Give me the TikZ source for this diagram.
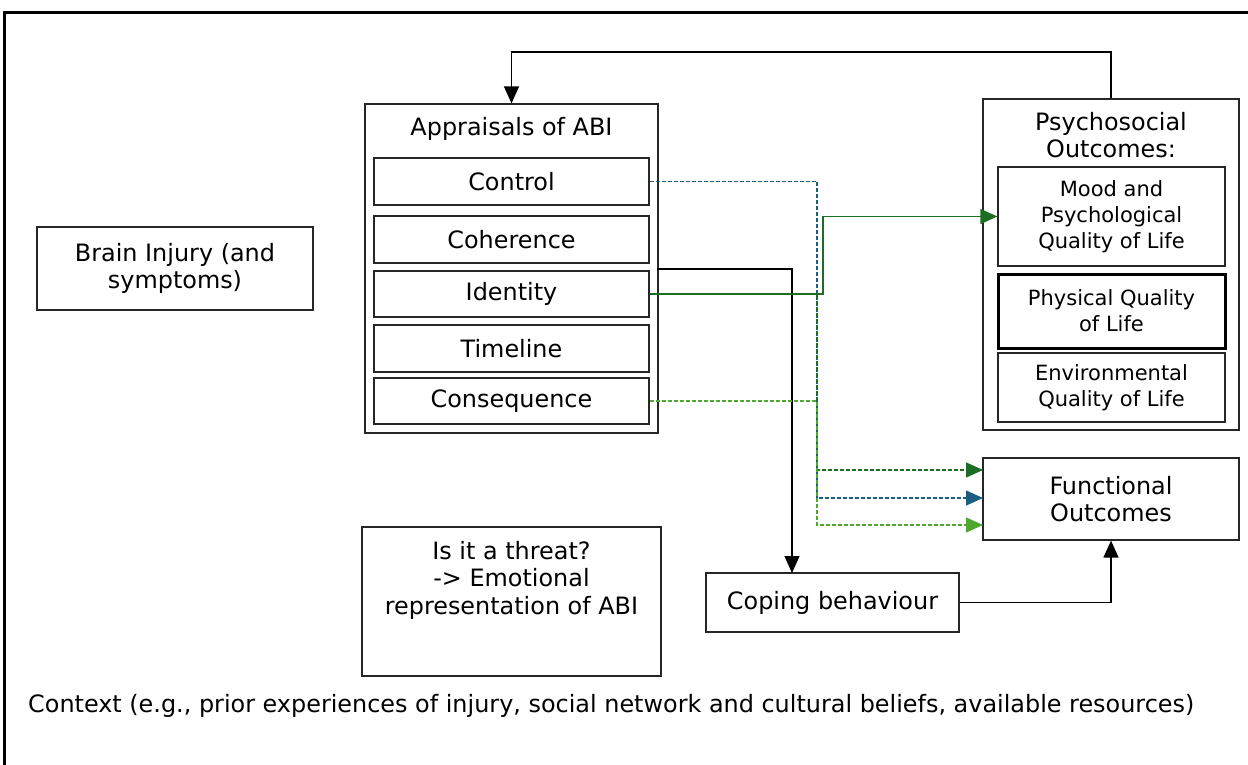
\documentclass[tikz,border=0pt]{standalone}
\usepackage{fontspec}
\setmainfont{DejaVu Sans}
\usetikzlibrary{arrows.meta,calc}
\definecolor{dkgreen}{HTML}{1B6E24}
\definecolor{ltgreen}{HTML}{4EA72E}
\definecolor{tblue}{HTML}{1A5E80}
\begin{document}
\begin{tikzpicture}[x=1pt,y=-1pt,
  box/.style={draw=black!85,line width=1.2pt,inner sep=0pt,align=center,font=\fontsize{23.9}{27.5}\selectfont},
  sbox/.style={draw=black!85,line width=1.2pt,inner sep=0pt,align=center,font=\fontsize{21}{26}\selectfont},
  txt/.style={inner sep=0pt,align=center,font=\fontsize{23.9}{27.5}\selectfont},
  arr/.style={line width=1.3pt,-{Triangle[length=17pt,width=15pt]}},
  dsh/.style={line width=1.2pt,dash pattern=on 4pt off 2pt,-{Triangle[length=17pt,width=15pt]}},
  ]
\useasboundingbox (0,0) rectangle (1248,765);
\fill[white] (0,0) rectangle (1248,765);
% outer frame
\draw[line width=3pt] (1270,13) -- (4,13) -- (4,790);

% appraisals
\node[box,minimum width=293pt,minimum height=329pt] (appr) at (511.5,268.5) {};
\node[txt] (apprt) at (511.5,129) {Appraisals of ABI};
\node[box,minimum width=275pt,minimum height=47pt] (control) at (511.5,181.5) {Control};
\node[box,minimum width=275pt,minimum height=47pt] (coher) at (511.5,239.5) {Coherence};
\node[box,minimum width=275pt,minimum height=46pt] (ident) at (511.5,294) {Identity};
\node[box,minimum width=275pt,minimum height=47pt] (timel) at (511.5,348.5) {Timeline};
\node[box,minimum width=275pt,minimum height=46pt] (conseq) at (511.5,401) {Consequence};

% brain injury
\node[box,minimum width=276pt,minimum height=83pt] (brain) at (175,268.5) {Brain Injury (and\\symptoms)};

% threat
\node[box,minimum width=299pt,minimum height=149pt] (threat) at (511.5,601.5) {};
\node[txt,anchor=north] (threatt) at (511.5,541) {Is it a threat?\\-> Emotional\\representation of ABI};

% psychosocial
\node[box,minimum width=256pt,minimum height=331pt] (psy) at (1111,264.5) {};
\node[txt,anchor=north] (psyt) at (1111,112) {Psychosocial\\Outcomes:};
\node[sbox,minimum width=227pt,minimum height=99pt] (mood) at (1111.5,216.5) {Mood and\\Psychological\\Quality of Life};
\node[sbox,line width=3pt,draw=black,minimum width=227pt,minimum height=74pt] (phys) at (1111.5,311) {Physical Quality\\of Life};
\node[sbox,minimum width=227pt,minimum height=69pt] (env) at (1111.5,387.5) {Environmental\\Quality of Life};

% functional
\node[box,minimum width=256pt,minimum height=82pt] (func) at (1111,499) {Functional\\Outcomes};

% coping
\node[box,minimum width=253pt,minimum height=59pt] (coping) at (832.5,602.5) {Coping behaviour};

% context
\node[txt,anchor=west] (ctx) at (28,706) {Context (e.g., prior experiences of injury, social network and cultural beliefs, available resources)};

% connectors
\coordinate (topr) at (1111,52);
\coordinate (topl) at (511.5,52);
\draw[arr] (psy.north) -- (topr) -- (topl) -- (appr.north);

\coordinate (b1) at (657,269);
\coordinate (b2) at (792,269);
\coordinate (b3) at (792,573);
\draw[arr] (b1) -- (b2) -- (b3);

\coordinate (c1) at (1111,602.5);
\draw[arr] (coping.east) -- (c1) -- (func.south);

\coordinate (k1) at (817,181.5);
\coordinate (k2) at (817,498);
\coordinate (k3) at (983,498);
\draw[dsh,tblue] (control.east) -- (k1) -- (k2) -- (k3);

\coordinate (i1) at (817,294);
\coordinate (i2) at (817,470);
\coordinate (i3) at (983,470);
\draw[dsh,dkgreen] (ident.east) -- (i1) -- (i2) -- (i3);

\coordinate (q1) at (817,401);
\coordinate (q2) at (817,525);
\coordinate (q3) at (983,525);
\draw[dsh,ltgreen] (conseq.east) -- (q1) -- (q2) -- (q3);

\coordinate (g1) at (823,294);
\coordinate (g2) at (823,216.5);
\draw[arr,dkgreen] (ident.east) -- (g1) -- (g2) -- (mood.west);
\end{tikzpicture}
\end{document}
